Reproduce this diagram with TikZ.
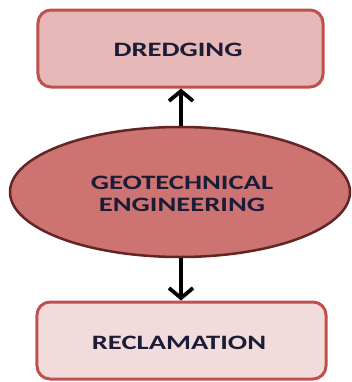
\documentclass[tikz,border=0pt]{standalone}
\usepackage{fontspec}
\setmainfont{Carlito}
\usetikzlibrary{shapes.geometric,arrows.meta}
\definecolor{boxborder}{HTML}{C0504D}
\definecolor{topfill}{HTML}{E6B8B7}
\definecolor{botfill}{HTML}{F2DCDB}
\definecolor{ellfill}{HTML}{CD7472}
\definecolor{ellborder}{HTML}{632523}
\definecolor{txt}{HTML}{1C1C38}
\newcommand{\wide}[1]{\scalebox{1.4}[1]{#1}}
\tikzset{
  stretched/.style={font=\fontsize{20.5}{22.7}\selectfont\bfseries, text=txt, align=center},
  roundbox/.style={rectangle, rounded corners=13bp, draw=boxborder, line width=3bp, inner sep=0pt},
  mainell/.style={ellipse, draw=ellborder, fill=ellfill, line width=2.5bp, inner sep=0pt, minimum width=340bp, minimum height=130bp},
  arr/.style={line width=3.8bp, -{Straight Barb[length=10bp,width=24bp,line width=3.8bp]}, black},
}
\begin{document}
\begin{tikzpicture}[x=1bp,y=-1bp]
\useasboundingbox (0,0) rectangle (352,382);
\node[roundbox, fill=topfill, minimum width=285bp, minimum height=77bp] (dredge) at (180.5,48.5) {};
\node[stretched] (dredgetxt) at (178,49.5) {\wide{DREDGING}};
\node[mainell] (geo) at (180,192) {};
\node[stretched] (geotxt) at (182,194) {\wide{GEOTECHNICAL}\\\wide{ENGINEERING}};
\node[roundbox, fill=botfill, minimum width=289bp, minimum height=77bp] (recl) at (181.5,340.5) {};
\node[stretched] (recltxt) at (179,343) {\wide{RECLAMATION}};
\draw[arr] (geo.north -| 181,0) -- (dredge.south -| 181,0);
\draw[arr] (geo.south -| 181,0) -- (recl.north -| 181,0);
\end{tikzpicture}
\end{document}
